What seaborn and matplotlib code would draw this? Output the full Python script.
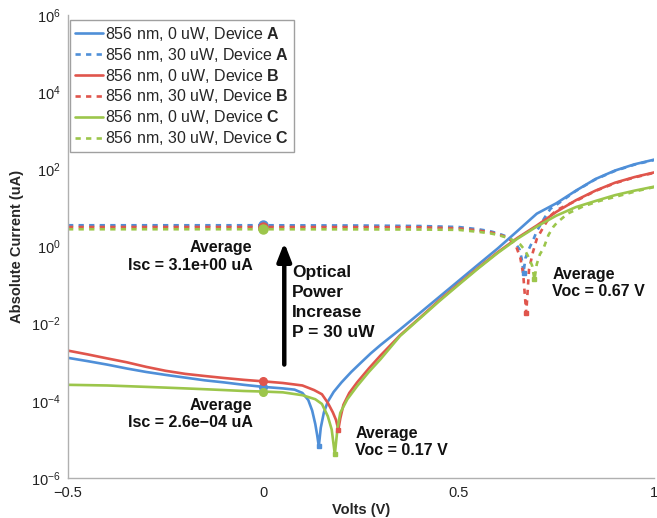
import numpy as np
import pandas as pd
import matplotlib
matplotlib.use("Agg")
import matplotlib.pyplot as plt
import seaborn as sns
from matplotlib.lines import Line2D

# ---------------- data (current in uA) ----------------
V_A0 = [-0.5, -0.45, -0.4, -0.35, -0.3, -0.25, -0.2, -0.15, -0.1, -0.05, 0.0, 0.05, 0.08, 0.1,
        0.115, 0.125, 0.133, 0.138, 0.142, 0.147, 0.155, 0.165, 0.18, 0.2, 0.225, 0.25, 0.275,
        0.3, 0.35, 0.4, 0.45, 0.5, 0.55, 0.6, 0.65, 0.7, 0.75, 0.8, 0.85, 0.9, 0.95, 1.0]
I_A0 = [1.3e-3, 1.07e-3, 8.7e-4, 6.9e-4, 5.6e-4, 4.7e-4, 4.0e-4, 3.4e-4, 3.0e-4, 2.6e-4, 2.3e-4,
        2.1e-4, 1.95e-4, 1.6e-4, 1.05e-4, 5.6e-5, 2.5e-5, 1.26e-5, 6.6e-6, 2.0e-5, 5.0e-5,
        9.5e-5, 1.7e-4, 3.0e-4, 5.6e-4, 9.8e-4, 1.7e-3, 2.8e-3, 7.1e-3, 1.86e-2, 4.9e-2, 0.129,
        0.34, 0.89, 2.5, 7.1, 13.2, 28.0, 56.0, 93.0, 135.0, 178.0]

V_B0 = [-0.5, -0.45, -0.4, -0.35, -0.3, -0.25, -0.2, -0.15, -0.1, -0.05, 0.0, 0.05, 0.1, 0.13,
        0.15, 0.165, 0.178, 0.186, 0.192, 0.197, 0.205, 0.22, 0.24, 0.27, 0.3, 0.35, 0.4, 0.45,
        0.5, 0.55, 0.6, 0.65, 0.7, 0.75, 0.8, 0.85, 0.9, 0.95, 1.0]
I_B0 = [2.0e-3, 1.6e-3, 1.26e-3, 1.0e-3, 7.6e-4, 6.0e-4, 5.0e-4, 4.4e-4, 3.9e-4, 3.5e-4, 3.2e-4,
        2.9e-4, 2.5e-4, 1.9e-4, 1.48e-4, 8.9e-5, 5.0e-5, 3.2e-5, 1.8e-5, 3.5e-5, 7.9e-5, 1.6e-4,
        3.0e-4, 6.9e-4, 1.5e-3, 5.0e-3, 1.4e-2, 4.0e-2, 0.107, 0.28, 0.71, 1.66, 3.5, 7.9, 15.8,
        28.0, 45.0, 63.0, 83.0]

V_C0 = [-0.5, -0.45, -0.4, -0.35, -0.3, -0.25, -0.2, -0.15, -0.1, -0.05, 0.0, 0.05, 0.1, 0.133,
        0.15, 0.165, 0.175, 0.183, 0.19, 0.197, 0.215, 0.24, 0.27, 0.3, 0.35, 0.4, 0.45, 0.5,
        0.55, 0.6, 0.65, 0.7, 0.75, 0.8, 0.85, 0.9, 0.95, 1.0]
I_C0 = [2.6e-4, 2.55e-4, 2.5e-4, 2.4e-4, 2.3e-4, 2.2e-4, 2.1e-4, 2.0e-4, 1.9e-4, 1.8e-4, 1.74e-4,
        1.66e-4, 1.4e-4, 1.1e-4, 8.3e-5, 4.0e-5, 1.8e-5, 4.1e-6, 2.0e-5, 4.9e-5, 1.1e-4, 2.4e-4,
        5.6e-4, 1.2e-3, 4.8e-3, 1.35e-2, 3.8e-2, 0.102, 0.27, 0.68, 1.58, 3.3, 6.3, 10.5, 15.1,
        21.4, 28.0, 35.5]

V_A30 = [-0.5, -0.25, 0.0, 0.25, 0.4, 0.5, 0.55, 0.58, 0.6, 0.62, 0.635, 0.648, 0.656, 0.661,
         0.666, 0.671, 0.678, 0.69, 0.7, 0.72, 0.735, 0.75, 0.8, 0.85, 0.9, 0.95, 1.0]
I_A30 = [3.55, 3.55, 3.55, 3.5, 3.4, 3.2, 2.8, 2.5, 2.2, 1.86, 1.5, 1.12, 0.83, 0.5, 0.21, 0.5,
         0.79, 1.41, 2.5, 5.6, 9.5, 12.0, 27.5, 55.0, 91.0, 132.0, 174.0]

V_B30 = [-0.5, -0.25, 0.0, 0.25, 0.4, 0.5, 0.55, 0.58, 0.6, 0.62, 0.635, 0.648, 0.658, 0.665,
         0.673, 0.68, 0.69, 0.7, 0.717, 0.735, 0.752, 0.778, 0.8, 0.85, 0.9, 0.95, 1.0]
I_B30 = [3.2, 3.2, 3.2, 3.18, 3.15, 2.95, 2.6, 2.35, 2.1, 1.78, 1.41, 0.95, 0.5, 0.2, 0.019, 0.25,
         0.71, 1.58, 3.2, 6.3, 8.9, 12.0, 15.1, 27.5, 43.7, 61.7, 81.0]

V_C30 = [-0.5, -0.25, 0.0, 0.25, 0.4, 0.5, 0.55, 0.58, 0.6, 0.62, 0.64, 0.658, 0.67, 0.68, 0.688,
         0.694, 0.7, 0.708, 0.717, 0.73, 0.742, 0.752, 0.78, 0.819, 0.86, 0.906, 0.957, 1.0]
I_C30 = [2.8, 2.8, 2.8, 2.78, 2.75, 2.7, 2.4, 2.2, 2.0, 1.74, 1.45, 1.12, 0.79, 0.5, 0.32, 0.14,
         0.35, 0.63, 0.89, 2.0, 3.2, 4.2, 7.2, 11.0, 15.1, 20.0, 27.5, 34.7]

devices = ["A", "A", "B", "B", "C", "C"]
powers = ["0 uW", "30 uW", "0 uW", "30 uW", "0 uW", "30 uW"]
V_all = [V_A0, V_A30, V_B0, V_B30, V_C0, V_C30]
I_all = [I_A0, I_A30, I_B0, I_B30, I_C0, I_C30]
colors = {"A": "#4F8FD8", "B": "#E0554C", "C": "#9CC64B"}

ann_isc_light = "Average\nIsc = 3.1e+00 uA"
ann_isc_dark = "Average\nIsc = 2.6e\u221204 uA"
ann_voc_dark = "Average\nVoc = 0.17 V"
ann_voc_light = "Average\nVoc = 0.67 V"
ann_power = "Optical\nPower\nIncrease\nP = 30 uW"

# ---------------- styling ----------------
sns.set_theme(style="white")
plt.rcParams["font.family"] = ["Liberation Sans", "DejaVu Sans"]
plt.rcParams["mathtext.fontset"] = "custom"
plt.rcParams["mathtext.rm"] = "Liberation Sans"
plt.rcParams["mathtext.bf"] = "Liberation Sans:bold"
plt.rcParams["mathtext.it"] = "Liberation Sans:italic"

fig = plt.figure(figsize=(6.57, 5.18), dpi=100)
ax = fig.add_axes([68 / 657, 1 - 478 / 518, 586 / 657, 463 / 518])

frames = []
for d, p, v, i in zip(devices, powers, V_all, I_all):
    frames.append(pd.DataFrame({"V": v, "I": i, "device": d, "power": p}))
df = pd.concat(frames, ignore_index=True)

handles = []
for d, p in zip(devices, powers):
    sub = df[(df.device == d) & (df.power == p)]
    ls = "-" if p == "0 uW" else (0, (2, 2))
    sns.lineplot(data=sub, x="V", y="I", color=colors[d], linestyle=ls, lw=1.9,
                 estimator=None, sort=False, ax=ax, legend=False)
    # markers: circle at V = 0, square at the open-circuit dip
    z = sub[sub.V == 0.0]
    ax.plot(z.V, z.I, "o", color=colors[d], ms=6.5 if p == "30 uW" else 5.5, zorder=4)
    m = sub.loc[[sub.I.idxmin()]]
    ax.plot(m.V, m.I, "s", color=colors[d], ms=3.2, zorder=4)
    handles.append(Line2D([], [], color=colors[d], lw=1.9, linestyle=ls,
                          label=f"856 nm, {p}, Device $\\mathbf{{{d}}}$"))

ax.set_yscale("log")
ax.set_xlim(-0.5, 1.0)
ax.set_ylim(1e-6, 1e6)
ax.set_yticks([1e-6, 1e-4, 1e-2, 1e0, 1e2, 1e4, 1e6])
ax.yaxis.set_minor_locator(matplotlib.ticker.NullLocator())
ax.set_xticks([-0.5, 0, 0.5, 1])
ax.set_xticklabels(["\u22120.5", "0", "0.5", "1"])

for s in ["top", "right"]:
    ax.spines[s].set_visible(False)
for s in ["left", "bottom"]:
    ax.spines[s].set_color("#b0b0b0")
    ax.spines[s].set_linewidth(1.0)
ax.tick_params(axis="both", direction="in", length=4, width=0.8, color="#b0b0b0",
               labelsize=10.5, labelcolor="#222222")
ax.tick_params(axis="x", pad=6)
ax.tick_params(axis="y", pad=5)

ax.set_xlabel("Volts (V)", fontsize=10.5, fontweight="bold", labelpad=2)
ax.set_ylabel("Absolute Current (uA)", fontsize=10.5, fontweight="bold", labelpad=5)

leg = ax.legend(handles=handles, loc="upper left", bbox_to_anchor=(2 / 586, 1 - 5 / 463),
                borderaxespad=0, fontsize=11.5, handlelength=1.75, handletextpad=0.15,
                labelspacing=0.18, borderpad=0.3, fancybox=False, framealpha=1)
leg.get_frame().set_edgecolor("#a0a0a0")
leg.get_frame().set_linewidth(1.0)

tkw = dict(fontsize=11.5, fontweight="bold", color="#111111", linespacing=1.2)
ax.text(-0.028, 0.55, ann_isc_light, ha="right", va="center", multialignment="right", **tkw)
ax.text(-0.028, 4.5e-5, ann_isc_dark, ha="right", va="center", multialignment="right", **tkw)
ax.text(0.235, 8.7e-6, ann_voc_dark, ha="left", va="center", **tkw)
ax.text(0.740, 0.113, ann_voc_light, ha="left", va="center", **tkw)
ax.text(0.074, 0.0345, ann_power, ha="left", va="center", fontsize=12.5, fontweight="bold",
        color="#111111", linespacing=1.42)

ax.annotate("", xy=(0.0536, 10 ** 0.1), xytext=(0.0536, 10 ** -3.06),
            arrowprops=dict(arrowstyle="-|>,head_length=0.9,head_width=0.35", lw=3.2,
                            color="black", shrinkA=0, shrinkB=0))

fig.savefig("out.png", dpi=100)
